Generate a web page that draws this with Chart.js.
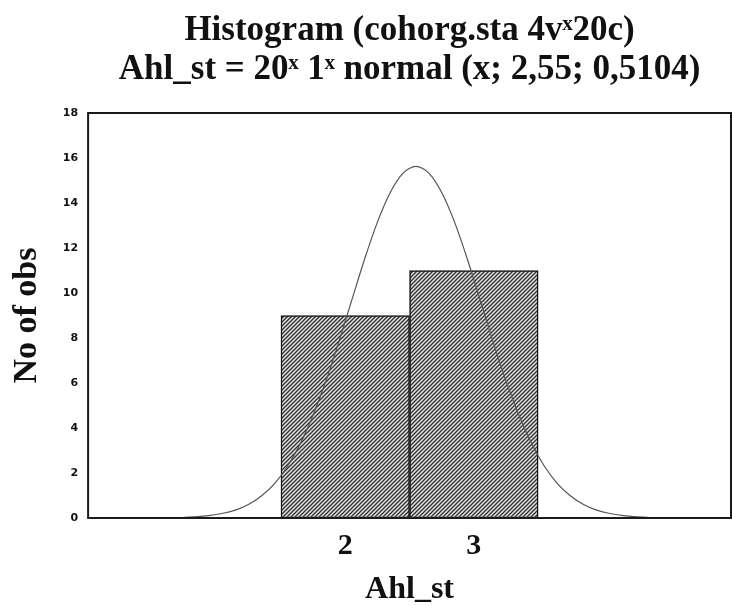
<!DOCTYPE html>
<html>
<head>
<meta charset="utf-8">
<script src="https://cdn.jsdelivr.net/npm/chart.js@4.4.1/dist/chart.umd.min.js"></script>
<style>
html,body{margin:0;padding:0;background:#fff;}
#c{display:block;}
</style>
</head>
<body>
<canvas id="c" width="732" height="606"></canvas>
<script>
// ---- data ----
const titleLines = ["Histogram (cohorg.sta 4v\u02E320c)", "Ahl_st = 20\u02E3 1\u02E3 normal (x; 2,55; 0,5104)"];
const binCenters = [2, 3];
const binCounts = [9, 11];
const xTickValues = [2, 3];
const yTickValues = [0, 2, 4, 6, 8, 10, 12, 14, 16, 18];
// fitted normal curve
const curveX = [0.75,0.85,0.95,1.05,1.15,1.25,1.35,1.45,1.55,1.65,1.75,1.85,1.95,2.05,2.15,2.25,2.35,2.45,2.55,
                2.65,2.75,2.85,2.95,3.05,3.15,3.25,3.35,3.45,3.55,3.65,3.75,3.85,3.95,4.05,4.15,4.25,4.35];
const curveY = [0.03,0.06,0.12,0.21,0.36,0.61,0.99,1.53,2.29,3.30,4.58,6.10,7.83,9.67,11.50,13.15,14.47,15.33,15.63,
                15.33,14.47,13.15,11.50,9.67,7.83,6.10,4.58,3.30,2.29,1.53,0.99,0.61,0.36,0.21,0.12,0.06,0.03];
const xLabel = "Ahl_st";
const yLabel = "No of obs";

function hatchPattern() {
  const c = document.createElement('canvas');
  c.width = 4; c.height = 4;
  const g = c.getContext('2d');
  g.fillStyle = '#e2e2e2';
  g.fillRect(0, 0, 4, 4);
  g.strokeStyle = '#303030';
  g.lineWidth = 1.3;
  g.beginPath();
  g.moveTo(0, 4); g.lineTo(4, 0);
  g.moveTo(-1, 1); g.lineTo(1, -1);
  g.moveTo(3, 5); g.lineTo(5, 3);
  g.stroke();
  return g.createPattern(c, 'repeat');
}

const framePlugin = {
  id: 'frame',
  afterDatasetsDraw(chart) {
    const a = chart.chartArea, ctx = chart.ctx;
    ctx.save();
    ctx.strokeStyle = '#1a1a1a';
    ctx.lineWidth = 2;
    ctx.strokeRect(a.left, a.top, a.right - a.left, a.bottom - a.top);
    ctx.restore();
  }
};

const serif = "'Liberation Serif', 'DejaVu Serif', serif";

new Chart(document.getElementById('c'), {
  data: {
    datasets: [
      {
        type: 'line',
        data: curveX.map((x, i) => ({x: x, y: curveY[i]})),
        borderColor: '#555',
        borderWidth: 1.2,
        pointRadius: 0,
        tension: 0.3,
        fill: false,
        order: 0
      },
      {
        type: 'bar',
        data: binCenters.map((x, i) => ({x: x, y: binCounts[i]})),
        backgroundColor: hatchPattern(),
        borderColor: '#111',
        borderWidth: 1.5,
        borderSkipped: false,
        barPercentage: 1,
        categoryPercentage: 1,
        grouped: false,
        order: 1
      }
    ]
  },
  options: {
    responsive: false,
    animation: false,
    layout: {padding: {left: 1, right: 1, top: 0, bottom: 0}},
    plugins: {
      legend: {display: false},
      tooltip: {enabled: false},
      title: {
        display: true,
        text: titleLines,
        color: '#111',
        fullSize: false,
        font: {family: serif, size: 35, weight: 'bold', lineHeight: 39/35},
        padding: {top: 11, bottom: 24}
      }
    },
    scales: {
      x: {
        type: 'linear',
        offset: false,
        min: 0,
        max: 5,
        afterBuildTicks: s => { s.ticks = xTickValues.map(v => ({value: v})); },
        grid: {display: false, drawTicks: false, offset: false},
        border: {display: false},
        ticks: {
          color: '#111',
          padding: 13,
          font: {family: serif, size: 30, weight: 'bold', lineHeight: 1.0},
          callback: v => String(v)
        },
        title: {
          display: true,
          text: xLabel,
          color: '#111',
          font: {family: serif, size: 32, weight: 'bold', lineHeight: 1.0},
          padding: {top: 0, bottom: 0}
        }
      },
      y: {
        type: 'linear',
        min: 0,
        max: 18,
        afterBuildTicks: s => { s.ticks = yTickValues.map(v => ({value: v})); },
        grid: {display: false, drawTicks: false},
        border: {display: false},
        ticks: {
          color: '#111',
          padding: 10,
          font: {family: "'DejaVu Sans', sans-serif", size: 11, weight: 'bold'}
        },
        title: {
          display: true,
          text: yLabel,
          color: '#111',
          font: {family: serif, size: 34, weight: 'bold', lineHeight: 1.2},
          padding: {top: 6, bottom: 5}
        }
      }
    }
  },
  plugins: [framePlugin]
});
</script>
</body>
</html>
